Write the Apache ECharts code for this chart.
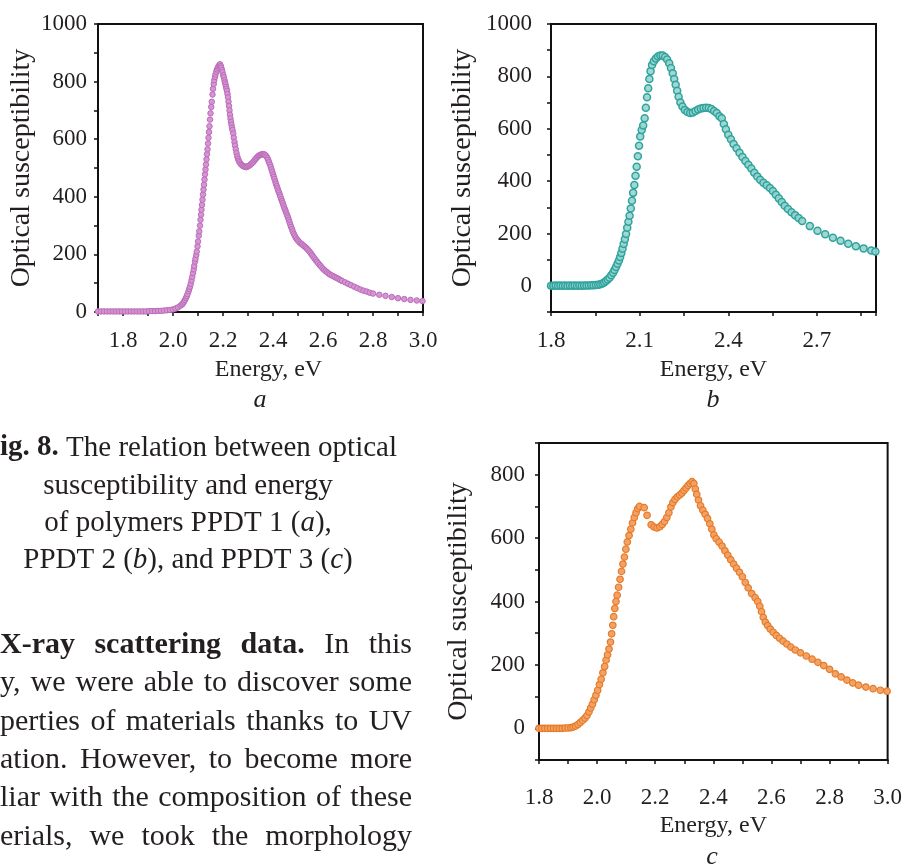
<!DOCTYPE html>
<html>
<head>
<meta charset="utf-8">
<script src="https://cdn.jsdelivr.net/npm/echarts@6/dist/echarts.min.js"></script>
<style>
html,body{margin:0;padding:0;background:#fff;}
#main{width:905px;height:868px;}
</style>
</head>
<body>
<div id="main"></div>
<script>
// ---------- DATA ----------
// Chart a (PPDT 1)
const energyA = [1.700,1.712,1.724,1.736,1.748,1.760,1.772,1.784,1.796,1.808,1.820,1.832,1.844,1.856,1.868,1.880,1.892,1.904,1.916,1.928,1.940,1.952,1.964,1.976,1.988,2.000,2.010,2.020,2.030,2.036,
  2.040,2.044,2.048,2.052,2.055,2.058,2.062,2.065,2.068,2.071,2.074,2.077,2.080,2.083,2.085,2.088,2.090,2.093,2.095,2.098,2.100,2.103,2.105,2.108,2.110,2.112,2.114,2.116,2.118,2.120,2.122,2.124,2.126,2.128,2.130,2.132,2.134,2.136,2.138,2.140,2.142,2.144,2.146,2.148,2.150,2.153,2.155,2.158,2.160,2.163,2.165,2.168,2.170,2.173,2.176,2.179,2.182,2.185,2.188,2.191,2.193,2.196,2.198,2.201,2.203,2.206,2.208,2.210,2.212,2.214,2.216,2.218,2.220,2.222,2.224,2.226,2.228,2.230,2.232,2.234,2.236,2.238,2.241,2.243,2.246,2.248,2.251,2.254,2.257,2.260,2.263,2.266,2.270,2.274,2.278,2.282,2.286,2.290,2.294,2.298,2.302,2.306,2.310,2.314,2.318,2.322,2.326,2.330,2.334,2.338,2.342,2.346,2.350,2.354,2.358,2.362,2.366,2.370,2.374,2.378,2.381,2.384,2.388,2.391,2.394,2.397,2.400,2.403,2.406,2.409,2.412,2.415,2.418,2.421,2.424,2.427,2.430,2.433,2.436,2.439,2.442,2.445,2.448,2.451,2.454,2.457,2.460,2.463,2.466,2.469,2.472,2.476,2.479,2.483,2.487,2.491,2.496,2.501,2.506,2.511,2.516,2.521,2.526,2.531,2.536,2.541,2.546,2.551,2.556,2.561,2.566,2.571,2.576,2.581,2.587,2.592,2.598,2.604,2.610,2.616,2.622,2.628,2.635,2.642,2.648,2.655,2.662,2.669,2.676,2.688,2.700,2.712,2.725,2.737,2.750,2.762,2.775,2.787,2.800,2.825,2.850,2.875,2.900,2.925,2.950,2.975,2.998];
const chiA = [2,2,2,2,2,2,2,2,2,2,2,2,2,2,2,2,2,3,3,3,4,4,5,6,7,9,12,16,22,26,
  30,36,42,49,55,62,72,80,88,98,110,122,135,148,160,175,185,198,210,228,245,265,280,300,320,338,355,372,390,408,425,442,460,478,495,512,530,548,565,585,605,625,645,668,690,712,730,755,775,792,805,816,825,834,842,848,853,857,860,854,848,840,832,822,815,805,797,790,782,775,768,757,745,730,715,700,685,672,660,650,640,632,620,605,590,578,565,552,540,532,525,520,515,511,508,506,505,504,503,505,507,509,512,515,518,522,527,531,535,539,542,544,546,547,548,548,547,544,540,534,528,520,512,504,495,487,478,470,462,453,445,437,430,422,415,407,400,392,385,378,370,363,356,349,342,335,328,320,312,304,296,288,280,272,265,258,252,247,242,238,235,231,228,224,220,215,210,204,198,192,186,180,175,169,163,158,152,147,142,138,134,130,127,124,121,118,115,111,108,103,98,93,88,83,78,74,71,67,64,60,56,52,48,45,42,40,38];

// Chart b (PPDT 2)
const energyB = [1.800,1.808,1.816,1.824,1.832,1.840,1.848,1.856,1.864,1.872,1.880,1.888,1.896,1.904,1.912,1.920,1.928,1.936,1.944,1.952,1.960,1.967,1.974,1.980,1.986,1.992,1.998,2.004,2.010,2.015,2.020,2.025,2.030,2.034,2.038,2.042,2.046,2.050,2.054,2.058,2.062,2.066,2.070,2.074,2.078,2.082,2.086,2.090,2.094,2.098,2.102,2.107,2.112,2.117,2.121,2.125,2.129,2.133,2.137,2.142,2.148,2.155,2.162,2.170,2.178,2.186,2.193,2.200,2.206,2.212,2.217,2.222,2.227,2.232,2.238,2.245,2.253,2.262,2.271,2.280,2.289,2.298,2.307,2.316,2.325,2.334,2.343,2.352,2.361,2.370,2.378,2.385,2.392,2.400,2.409,2.418,2.428,2.438,2.448,2.458,2.468,2.478,2.488,2.498,2.508,2.519,2.530,2.541,2.551,2.561,2.571,2.581,2.591,2.602,2.614,2.626,2.638,2.650,2.676,2.702,2.728,2.754,2.780,2.806,2.832,2.858,2.884,2.898];
const chiB = [0,0,1,0,1,0,1,0,1,0,1,0,1,0,1,1,1,2,2,3,4,6,9,13,18,24,31,40,50,60,72,84,97,110,125,142,160,178,198,222,245,268,295,325,355,385,420,455,495,535,570,595,612,640,680,720,755,790,820,843,858,868,876,880,880,874,864,850,832,812,790,768,745,722,700,685,672,664,660,662,668,673,677,679,680,679,675,668,660,648,640,618,598,577,560,542,525,508,492,477,462,448,432,418,405,394,384,374,362,348,334,320,306,293,281,270,259,248,228,210,197,184,172,161,151,143,135,131];

// Chart c (PPDT 3)
const energyC = [1.800,1.810,1.820,1.830,1.840,1.850,1.860,1.870,1.880,1.890,1.900,1.910,1.918,1.926,1.934,1.942,1.950,1.958,1.965,1.972,1.978,1.984,1.990,1.996,2.002,2.008,2.014,2.020,2.026,2.031,2.036,2.041,2.046,2.050,2.054,2.057,2.061,2.065,2.069,2.074,2.079,2.084,2.089,2.094,2.099,2.104,2.110,2.116,2.122,2.128,2.134,2.140,2.146,2.162,2.172,2.186,2.196,2.206,2.216,2.224,2.232,2.240,2.247,2.254,2.261,2.268,2.276,2.284,2.292,2.299,2.306,2.313,2.320,2.327,2.333,2.338,2.343,2.349,2.356,2.364,2.372,2.380,2.388,2.395,2.402,2.410,2.420,2.430,2.440,2.450,2.460,2.470,2.480,2.490,2.500,2.510,2.520,2.532,2.544,2.553,2.560,2.566,2.572,2.579,2.587,2.596,2.606,2.617,2.628,2.640,2.653,2.667,2.682,2.700,2.720,2.740,2.760,2.780,2.800,2.820,2.840,2.860,2.880,2.900,2.925,2.950,2.975,2.998];
const chiC = [0,0,0,0,0,0,0,0,0,1,1,2,4,7,12,18,25,32,40,52,64,76,90,104,120,138,155,175,195,215,232,250,272,298,325,352,378,400,420,445,470,495,518,540,565,588,608,628,648,665,680,693,700,696,672,642,635,632,636,643,652,665,680,698,712,722,730,736,742,750,758,766,772,778,772,755,738,720,702,688,675,662,645,628,610,598,587,575,560,546,532,518,505,492,478,460,443,425,412,400,385,368,350,335,324,313,303,293,284,275,266,256,247,238,228,218,208,198,186,172,162,152,143,136,130,125,120,117];

// Axis labels / texts
const xTitle = 'Energy, eV';
const yTitle = 'Optical susceptibility';
const panelLabels = ['a', 'b', 'c'];
const paragraphLines = [
  [['X-ray','b'],['scattering','b'],['data.','b'],['In','n'],['this','n']],
  [['y,','n'],['we','n'],['were','n'],['able','n'],['to','n'],['discover','n'],['some','n']],
  [['perties','n'],['of','n'],['materials','n'],['thanks','n'],['to','n'],['UV','n']],
  [['ation.','n'],['However,','n'],['to','n'],['become','n'],['more','n']],
  [['liar','n'],['with','n'],['the','n'],['composition','n'],['of','n'],['these','n']],
  [['erials,','n'],['we','n'],['took','n'],['the','n'],['morphology','n']]
];

// ---------- CHART ----------
const FONT = 'Liberation Serif';
const INK = '#231f20';
const zip = (xs, ys) => xs.map((x, i) => [x, ys[i]]);

function xAxisCfg(gridIndex, min, max, interval, showLabel, labelMargin, nameGap, namePad) {
  return {
    type: 'value', gridIndex, min, max, interval,
    name: xTitle, nameLocation: 'middle', nameGap,
    nameTextStyle: {fontFamily: FONT, fontSize: 24, color: INK, padding: namePad || 0},
    axisLine: {show: true, onZero: false, lineStyle: {color: '#111', width: 2}},
    axisTick: {show: true, inside: false, length: 4, lineStyle: {color: '#111', width: 1.5}},
    axisLabel: {show: true, margin: labelMargin, fontFamily: FONT, fontSize: 23, color: INK,
      formatter: v => showLabel(v) ? v.toFixed(1) : ''},
    splitLine: {show: false}
  };
}
function yAxisCfg(gridIndex, min, max, nameGap, labelMargin) {
  return {
    type: 'value', gridIndex, min, max, interval: 100,
    name: yTitle, nameLocation: 'middle', nameGap,
    nameTextStyle: {fontFamily: FONT, fontSize: 28, color: INK},
    axisLine: {show: true, onZero: false, lineStyle: {color: '#111', width: 2}},
    axisTick: {show: true, inside: false, length: 4, lineStyle: {color: '#111', width: 1.5}},
    axisLabel: {show: true, margin: labelMargin, fontFamily: FONT, fontSize: 23, color: INK,
      formatter: v => (v >= 0 && Math.round(v) % 200 === 0) ? String(Math.round(v)) : ''},
    splitLine: {show: false}
  };
}
const gridBox = {show: true, borderColor: '#111', borderWidth: 2, backgroundColor: 'transparent'};

function txt(x, y, text, size, align, extra) {
  return {type: 'text', x, y, silent: true,
    style: Object.assign({text, fontFamily: FONT, fontSize: size, fill: INK, align, verticalAlign: 'middle'}, extra || {})};
}
const richStyles = (size) => ({
  n: {fontFamily: FONT, fontSize: size, color: INK},
  i: {fontFamily: FONT, fontSize: size, color: INK, fontStyle: 'italic'},
  b: {fontFamily: FONT, fontSize: size, color: INK, fontWeight: 'bold'}
});

// justified paragraph lines (words spread between left and right margins)
const measureCtx = document.createElement('canvas').getContext('2d');
function justify(words, y, left, right, size) {
  const widths = words.map(([w, s]) => {
    measureCtx.font = (s === 'b' ? 'bold ' : '') + size + 'px "' + FONT + '"';
    return measureCtx.measureText(w).width;
  });
  const total = widths.reduce((a, b) => a + b, 0);
  const gap = (right - left - total) / (words.length - 1);
  let x = left;
  return words.map(([w, s], i) => {
    const el = txt(x, y, w, size, 'left', s === 'b' ? {fontWeight: 'bold'} : {});
    x += widths[i] + gap;
    return el;
  });
}

const CAP = 29, PAR = 30;
const paraY = [645, 683, 722, 760, 798, 837];
let graphics = [
  txt(260, 400, panelLabels[0], 26, 'center', {fontStyle: 'italic'}),
  txt(713, 400, panelLabels[1], 26, 'center', {fontStyle: 'italic'}),
  txt(712, 857, panelLabels[2], 26, 'center', {fontStyle: 'italic'}),
  txt(0, 448, 'ig. 8.', CAP, 'left', {fontWeight: 'bold'}),
  txt(397, 448, 'The relation between optical', CAP, 'right'),
  txt(188, 486, 'susceptibility and energy', CAP, 'center'),
  {type: 'text', x: 188, y: 523, silent: true, style: {text: '{n|of polymers PPDT 1 (}{i|a}{n|),}', align: 'center', verticalAlign: 'middle', rich: richStyles(CAP), fontFamily: FONT, fontSize: CAP, fill: INK}},
  {type: 'text', x: 188, y: 560, silent: true, style: {text: '{n|PPDT 2 (}{i|b}{n|), and PPDT 3 (}{i|c}{n|)}', align: 'center', verticalAlign: 'middle', rich: richStyles(CAP), fontFamily: FONT, fontSize: CAP, fill: INK}}
];
paragraphLines.forEach((words, i) => { graphics = graphics.concat(justify(words, paraY[i], 0, 412, PAR)); });

const chart = echarts.init(document.getElementById('main'), null, {renderer: 'canvas'});
chart.setOption({
  animation: false,
  backgroundColor: '#ffffff',
  textStyle: {fontFamily: FONT},
  grid: [
    Object.assign({left: 98, top: 24, width: 325, height: 288}, gridBox),
    Object.assign({left: 551, top: 24, width: 325, height: 288}, gridBox),
    Object.assign({left: 539, top: 443, width: 350, height: 317}, gridBox)
  ],
  xAxis: [
    xAxisCfg(0, 1.7, 3.0, 0.1, v => Math.round(v * 10) % 2 === 0, 17, 46, [0, 0, 0, 16]),
    xAxisCfg(1, 1.8, 2.9, 0.15, v => Math.round((v - 1.8) / 0.15) % 2 === 0 && v < 2.86, 17, 46),
    xAxisCfg(2, 1.8, 3.0, 0.1, v => Math.round(v * 10) % 2 === 0, 26, 54)
  ],
  yAxis: [
    yAxisCfg(0, 0, 1000, 62, 11),
    yAxisCfg(1, -100, 1000, 74, 19),
    yAxisCfg(2, -100, 900, 66, 14)
  ],
  series: [
    {type: 'scatter', xAxisIndex: 0, yAxisIndex: 0, data: zip(energyA, chiA), symbol: 'circle', symbolSize: 5.5,
      itemStyle: {color: '#d595d3', borderColor: '#bb6cb9', borderWidth: 1, opacity: 1}},
    {type: 'scatter', xAxisIndex: 1, yAxisIndex: 1, data: zip(energyB, chiB), symbol: 'circle', symbolSize: 7,
      itemStyle: {color: 'rgba(150,212,208,0.9)', borderColor: '#30a39c', borderWidth: 1.5, opacity: 1}},
    {type: 'scatter', xAxisIndex: 2, yAxisIndex: 2, data: zip(energyC, chiC), symbol: 'circle', symbolSize: 6.5,
      itemStyle: {color: '#f3a266', borderColor: '#e57a27', borderWidth: 1.2, opacity: 1}}
  ],
  graphic: graphics
});
</script>
</body>
</html>
